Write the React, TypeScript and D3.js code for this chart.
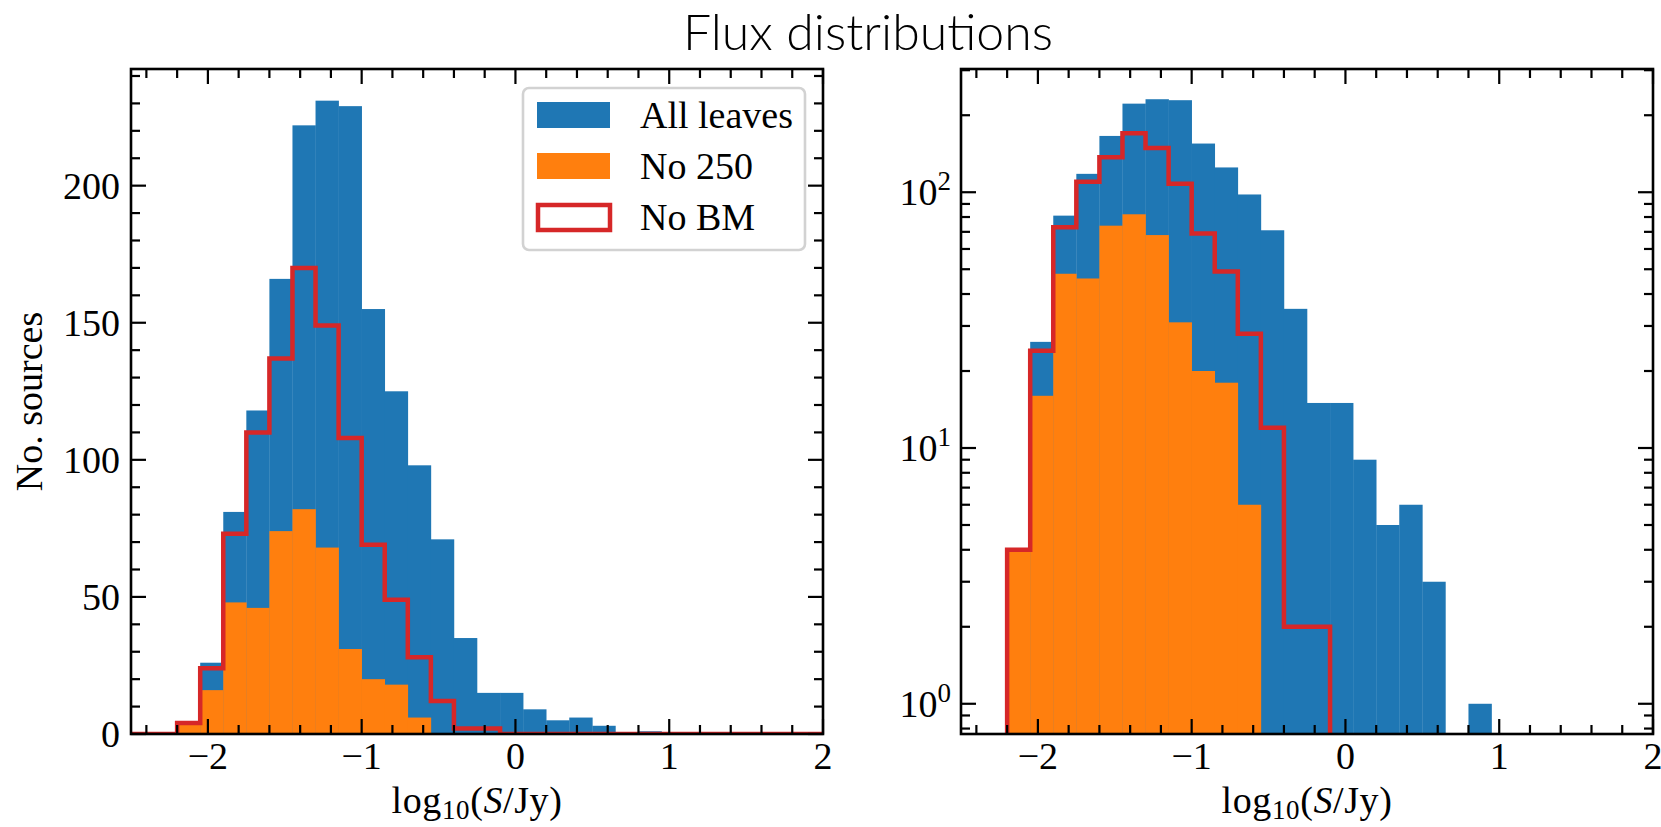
import { useRef, useEffect } from "react";
import * as d3 from "d3";

// histogram bin edges, log10(S/Jy)
const binEdges = [
  -2.5, -2.35, -2.2, -2.05, -1.9, -1.75, -1.6, -1.45, -1.3, -1.15, -1.0,
  -0.85, -0.7, -0.55, -0.4, -0.25, -0.1, 0.05, 0.2, 0.35, 0.5,
  0.65, 0.8, 0.95, 1.1, 1.25, 1.4, 1.55, 1.7, 1.85, 2.0,
];

// counts per bin
const allLeaves = [0, 0, 4, 26, 81, 118, 166, 222, 231, 229, 155, 125, 98, 71, 35, 15, 15, 9, 5, 6, 3, 0, 1, 0, 0, 0, 0, 0, 0, 0];
const no250 = [0, 0, 4, 16, 48, 46, 74, 82, 68, 31, 20, 18, 6, 0, 0, 0, 0, 0, 0, 0, 0, 0, 0, 0, 0, 0, 0, 0, 0, 0];
const noBM = [0, 0, 4, 24, 73, 110, 137, 170, 149, 108, 69, 49, 28, 12, 2, 2, 0, 0, 0, 0, 0, 0, 0, 0, 0, 0, 0, 0, 0, 0];

const xMajor = [-2, -1, 0, 1, 2];
const yMajorLin = [0, 50, 100, 150, 200];
const yMajorLog = [1, 10, 100];
const legendLabels = ["All leaves", "No 250", "No BM"];

const BLUE = "#1f77b4";
const ORANGE = "#ff7f0e";
const RED = "#d62728";
const SERIF = "'Liberation Serif', 'DejaVu Serif', serif";
const FS = 38;

const W = 1661;
const H = 827;
const TOP = 69;
const BOTTOM = 734;
const panels = [
  { x0: 131, x1: 823, log: false },
  { x0: 961, x1: 1653, log: true },
];

const App = () => {
  const svgRef = useRef<SVGSVGElement | null>(null);

  useEffect(() => {
    if (!svgRef.current) return;
    document.body.style.margin = "0";
    const svg = d3.select(svgRef.current);
    svg.selectAll("*").remove();

    svg.append("rect").attr("width", W).attr("height", H).attr("fill", "#fff");

    // title
    svg.append("text")
      .attr("x", 868)
      .attr("y", 50)
      .attr("text-anchor", "middle")
      .attr("font-family", "Lato, 'Open Sans', sans-serif")
      .attr("font-weight", 300)
      .attr("font-size", 50)
      .text("Flux distributions");

    panels.forEach((p, pi) => {
      const x = d3.scaleLinear().domain([-2.5, 2]).range([p.x0, p.x1]);
      const yLin = d3.scaleLinear().domain([0, 242.55]).range([BOTTOM, TOP]);
      const yLog = d3.scaleLog().domain([Math.pow(10, -0.1182), Math.pow(10, 2.4818)]).range([BOTTOM, TOP]);
      const y = (v: number) => {
        if (p.log) return v > 0 ? yLog(v) : BOTTOM + 60;
        return yLin(v);
      };

      const clipId = `clip-${pi}`;
      svg.append("clipPath").attr("id", clipId)
        .append("rect")
        .attr("x", p.x0).attr("y", TOP)
        .attr("width", p.x1 - p.x0).attr("height", BOTTOM - TOP);

      const g = svg.append("g").attr("clip-path", `url(#${clipId})`);

      const drawBars = (counts: number[], color: string) => {
        g.append("g")
          .selectAll("rect")
          .data(counts.map((c, i) => ({ c, i })).filter((d) => d.c > 0))
          .enter()
          .append("rect")
          .attr("x", (d) => x(binEdges[d.i]))
          .attr("width", (d) => x(binEdges[d.i + 1]) - x(binEdges[d.i]) + 0.3)
          .attr("y", (d) => y(d.c))
          .attr("height", (d) => Math.max(0, (p.log ? BOTTOM : yLin(0)) - y(d.c)))
          .attr("fill", color);
      };
      drawBars(allLeaves, BLUE);
      drawBars(no250, ORANGE);

      // step outline
      const pts: [number, number][] = [[x(binEdges[0]), y(0)]];
      noBM.forEach((c, i) => {
        pts.push([x(binEdges[i]), y(c)]);
        pts.push([x(binEdges[i + 1]), y(c)]);
      });
      pts.push([x(binEdges[binEdges.length - 1]), y(0)]);
      g.append("path")
        .attr("d", d3.line()(pts))
        .attr("fill", "none")
        .attr("stroke", RED)
        .attr("stroke-width", 4.5)
        .attr("stroke-linejoin", "miter");

      // ticks
      const ax = svg.append("g").attr("stroke", "#000").attr("stroke-width", 2.2);
      const MAJ = 15;
      const MIN = 9;
      const xMinor = d3.range(-2.4, 2.0, 0.2).filter((v) => Math.abs(v - Math.round(v)) > 1e-6);
      const xTick = (v: number, len: number) => {
        const xx = x(v);
        ax.append("line").attr("x1", xx).attr("x2", xx).attr("y1", BOTTOM).attr("y2", BOTTOM - len);
        ax.append("line").attr("x1", xx).attr("x2", xx).attr("y1", TOP).attr("y2", TOP + len);
      };
      xMajor.forEach((v) => xTick(v, MAJ));
      xMinor.forEach((v) => xTick(v, MIN));

      const yTick = (yy: number, len: number) => {
        ax.append("line").attr("x1", p.x0).attr("x2", p.x0 + len).attr("y1", yy).attr("y2", yy);
        ax.append("line").attr("x1", p.x1).attr("x2", p.x1 - len).attr("y1", yy).attr("y2", yy);
      };
      if (!p.log) {
        yMajorLin.forEach((v) => yTick(yLin(v), MAJ));
        d3.range(10, 250, 10).filter((v) => v % 50 !== 0 && v <= 242).forEach((v) => yTick(yLin(v), MIN));
      } else {
        yMajorLog.forEach((v) => yTick(yLog(v), MAJ));
        [0.1, 1, 10, 100].forEach((dec) => {
          d3.range(2, 10).forEach((m) => {
            const v = m * dec;
            if (v > 0.762 && v < 303) yTick(yLog(v), MIN);
          });
        });
      }

      // frame
      svg.append("rect")
        .attr("x", p.x0).attr("y", TOP)
        .attr("width", p.x1 - p.x0).attr("height", BOTTOM - TOP)
        .attr("fill", "none").attr("stroke", "#000").attr("stroke-width", 2.6);

      // x tick labels
      svg.append("g")
        .selectAll("text")
        .data(xMajor)
        .enter()
        .append("text")
        .attr("x", (d) => x(d))
        .attr("y", 769)
        .attr("text-anchor", "middle")
        .attr("font-family", SERIF)
        .attr("font-size", FS)
        .text((d) => (d < 0 ? "\u2212" + Math.abs(d) : String(d)));

      // x label
      const xl = svg.append("text")
        .attr("x", (p.x0 + p.x1) / 2)
        .attr("y", 813)
        .attr("text-anchor", "middle")
        .attr("font-family", SERIF)
        .attr("font-size", FS)
        .attr("letter-spacing", 0.6);
      xl.append("tspan").text("log");
      xl.append("tspan").attr("font-size", 27).attr("dy", 6).text("10");
      xl.append("tspan").attr("dy", -6).text("(");
      xl.append("tspan").attr("font-style", "italic").text("S");
      xl.append("tspan").text("/Jy)");

      // y tick labels
      if (!p.log) {
        svg.append("g")
          .selectAll("text")
          .data(yMajorLin)
          .enter()
          .append("text")
          .attr("x", p.x0 - 11)
          .attr("y", (d) => yLin(d) + 13)
          .attr("text-anchor", "end")
          .attr("font-family", SERIF)
          .attr("font-size", FS)
          .text((d) => String(d));

        svg.append("text")
          .attr("transform", `translate(42,${(TOP + BOTTOM) / 2}) rotate(-90)`)
          .attr("text-anchor", "middle")
          .attr("font-family", SERIF)
          .attr("font-size", FS)
          .text("No. sources");
      } else {
        yMajorLog.forEach((v) => {
          const t = svg.append("text")
            .attr("x", p.x0 - 10)
            .attr("y", yLog(v) + 13)
            .attr("text-anchor", "end")
            .attr("font-family", SERIF)
            .attr("font-size", FS);
          t.append("tspan").text("10");
          t.append("tspan").attr("font-size", 27).attr("dy", -15).text(String(Math.round(Math.log10(v))));
        });
      }
    });

    // legend
    const lg = svg.append("g");
    lg.append("rect")
      .attr("x", 523).attr("y", 88).attr("width", 282).attr("height", 162)
      .attr("rx", 6).attr("fill", "#fff").attr("fill-opacity", 0.8)
      .attr("stroke", "#d2d2d2").attr("stroke-width", 2.6);
    const colors = [BLUE, ORANGE, RED];
    legendLabels.forEach((label, i) => {
      const yy = 102 + i * 51;
      if (i < 2) {
        lg.append("rect").attr("x", 537).attr("y", yy).attr("width", 73).attr("height", 26).attr("fill", colors[i]);
      } else {
        lg.append("rect").attr("x", 538).attr("y", yy + 1).attr("width", 72).attr("height", 25)
          .attr("fill", "none").attr("stroke", colors[i]).attr("stroke-width", 4.5);
      }
      lg.append("text")
        .attr("x", 640)
        .attr("y", yy + 26)
        .attr("font-family", SERIF)
        .attr("font-size", FS)
        .text(label);
    });
  }, []);

  return (
    <svg
      ref={svgRef}
      width={W}
      height={H}
      viewBox={`0 0 ${W} ${H}`}
      style={{ display: "block", position: "absolute", left: 0, top: 0 }}
    ></svg>
  );
};

export default App;
